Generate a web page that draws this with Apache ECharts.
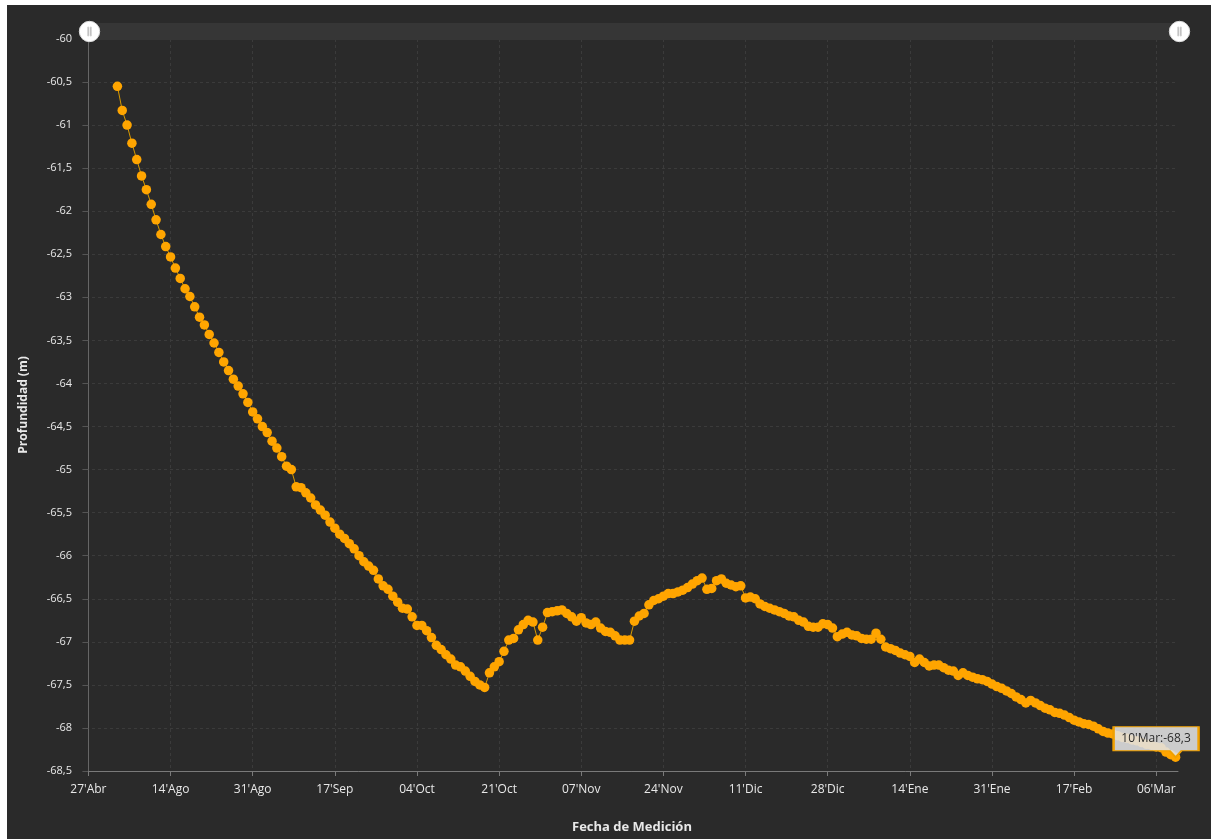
<!DOCTYPE html>
<html>
<head>
<meta charset="utf-8">
<script src="https://cdn.jsdelivr.net/npm/echarts@6/dist/echarts.min.js"></script>
<style>
  html, body { margin: 0; padding: 0; background: #ffffff; width: 1211px; height: 839px; overflow: hidden; }
  #chart { position: absolute; left: 7px; top: 5px; width: 1204px; height: 834px; background: #2a2a2a; }
</style>
</head>
<body>
<div id="chart"></div>
<script>
// ---- data ----
const tickLabels = ["27'Abr", "14'Ago", "31'Ago", "17'Sep", "04'Oct", "21'Oct", "07'Nov", "24'Nov", "11'Dic", "28'Dic", "14'Ene", "31'Ene", "17'Feb", "06'Mar"];
const tickStepDays = 17;
const axisOriginDate = '2024-07-28';
const firstMeasurementDate = '2024-08-03';
const monthNamesEs = ['Ene', 'Feb', 'Mar', 'Abr', 'May', 'Jun', 'Jul', 'Ago', 'Sep', 'Oct', 'Nov', 'Dic'];
// one depth per day, starting at firstMeasurementDate
const depths = [
  -60.55, -60.83, -61.00, -61.21, -61.40, -61.59, -61.75, -61.92, -62.10, -62.27,
  -62.41, -62.53, -62.66, -62.78, -62.90, -62.99, -63.11, -63.23, -63.32, -63.43,
  -63.53, -63.64, -63.75, -63.85, -63.95, -64.03, -64.12, -64.22, -64.33, -64.41,
  -64.50, -64.57, -64.67, -64.75, -64.85, -64.96, -65.00, -65.20, -65.21, -65.27,
  -65.33, -65.41, -65.47, -65.53, -65.61, -65.68, -65.75, -65.80, -65.86, -65.92,
  -66.00, -66.07, -66.12, -66.17, -66.27, -66.35, -66.39, -66.47, -66.54, -66.61,
  -66.62, -66.71, -66.81, -66.81, -66.87, -66.95, -67.04, -67.09, -67.15, -67.20,
  -67.27, -67.29, -67.34, -67.40, -67.46, -67.50, -67.53, -67.36, -67.29, -67.23,
  -67.11, -66.98, -66.96, -66.86, -66.80, -66.75, -66.77, -66.98, -66.83, -66.66,
  -66.65, -66.64, -66.63, -66.67, -66.71, -66.76, -66.72, -66.78, -66.80, -66.77,
  -66.84, -66.88, -66.89, -66.93, -66.98, -66.98, -66.98, -66.76, -66.70, -66.67,
  -66.57, -66.52, -66.50, -66.47, -66.44, -66.44, -66.42, -66.40, -66.37, -66.33,
  -66.29, -66.26, -66.39, -66.38, -66.29, -66.27, -66.32, -66.34, -66.36, -66.35,
  -66.49, -66.48, -66.50, -66.56, -66.59, -66.61, -66.63, -66.65, -66.67, -66.70,
  -66.71, -66.75, -66.77, -66.82, -66.83, -66.83, -66.79, -66.80, -66.84, -66.94,
  -66.91, -66.89, -66.92, -66.93, -66.96, -66.97, -66.97, -66.90, -66.97, -67.06,
  -67.08, -67.10, -67.13, -67.15, -67.17, -67.24, -67.20, -67.24, -67.28, -67.27,
  -67.27, -67.30, -67.33, -67.34, -67.39, -67.36, -67.39, -67.41, -67.43, -67.44,
  -67.46, -67.49, -67.52, -67.54, -67.57, -67.60, -67.64, -67.67, -67.71, -67.68,
  -67.71, -67.74, -67.77, -67.79, -67.82, -67.83, -67.85, -67.88, -67.91, -67.93,
  -67.95, -67.96, -67.98, -68.01, -68.04, -68.06, -68.07, -68.09, -68.11, -68.12,
  -68.14, -68.15, -68.17, -68.19, -68.20, -68.22, -68.23, -68.28, -68.31, -68.34
];

// ---- build ----
const DAY = 86400000;
const originMs = Date.parse(axisOriginDate + 'T00:00:00Z');
const firstDay = Math.round((Date.parse(firstMeasurementDate + 'T00:00:00Z') - originMs) / DAY);
const seriesData = depths.map((v, i) => [firstDay + i, v]);
const lastPoint = seriesData[seriesData.length - 1];
function dayLabel(d) {
  const dt = new Date(originMs + d * DAY);
  const dd = String(dt.getUTCDate()).padStart(2, '0');
  return dd + "'" + monthNamesEs[dt.getUTCMonth()];
}
const fmtNum = v => String(v).replace('.', ',');
const lastText = dayLabel(lastPoint[0]) + ':' + fmtNum(Math.round(lastPoint[1] * 10) / 10);
const tickValues = tickLabels.map((_, i) => i * tickStepDays);

const labelColor = '#e8e8e8';
const gridLineColor = '#3b3b3b';
const axisLineColor = '#7a7a7a';
const font = "'Open Sans', 'Noto Sans', sans-serif";

const chart = echarts.init(document.getElementById('chart'), null, { renderer: 'canvas' });
chart.setOption({
  animation: false,
  backgroundColor: '#2a2a2a',
  textStyle: { fontFamily: font },
  grid: { left: 79, right: 33, top: 34, bottom: 63.5, containLabel: false },
  dataZoom: [{
    type: 'slider',
    xAxisIndex: 0,
    filterMode: 'none',
    start: 0, end: 100,
    top: 18, height: 17, left: 80, right: 32,
    backgroundColor: '#363636',
    fillerColor: '#363636',
    borderColor: 'transparent',
    showDataShadow: false,
    showDetail: false,
    brushSelect: false,
    moveHandleSize: 0,
    zoomLock: true,
    dataBackground: { lineStyle: { opacity: 0 }, areaStyle: { opacity: 0 } },
    selectedDataBackground: { lineStyle: { opacity: 0 }, areaStyle: { opacity: 0 } },
    handleIcon: 'path://M10,0A10,10,0,1,1,10,20A10,10,0,1,1,10,0Z M8.3,5.5L8.3,14.5L9.3,14.5L9.3,5.5Z M10.7,5.5L10.7,14.5L11.7,14.5L11.7,5.5Z',
    handleSize: '120%',
    handleStyle: { color: '#ffffff', borderColor: '#dddddd', borderWidth: 1 },
    emphasis: { handleStyle: { color: '#ffffff', borderColor: '#dddddd' } }
  }],
  xAxis: {
    type: 'value',
    min: -0.5,
    max: 225.5,
    name: 'Fecha de Medición',
    nameLocation: 'middle',
    nameGap: 50,
    nameTextStyle: { color: labelColor, fontSize: 13, fontWeight: 'bold', fontFamily: font },
    axisLine: { show: true, onZero: false, lineStyle: { color: axisLineColor, width: 1 } },
    axisTick: { show: true, length: 5, customValues: tickValues, lineStyle: { color: axisLineColor } },
    axisLabel: {
      customValues: tickValues,
      color: labelColor, fontSize: 12, margin: 13, fontFamily: font,
      formatter: v => tickLabels[Math.round(v / tickStepDays)]
    },
    splitLine: { show: true, lineStyle: { color: gridLineColor, type: [3, 3], width: 1 } }
  },
  yAxis: {
    type: 'value',
    min: -68.5,
    max: -60,
    interval: 0.5,
    name: 'Profundidad (m)',
    nameLocation: 'middle',
    nameGap: 56,
    nameRotate: 90,
    nameTextStyle: { color: labelColor, fontSize: 12, fontWeight: 'bold', fontFamily: font },
    axisLine: { show: true, lineStyle: { color: '#666666', width: 1 } },
    axisTick: { show: true, length: 6, lineStyle: { color: '#555555' } },
    axisLabel: { color: labelColor, fontSize: 11, margin: 14, fontFamily: font, formatter: v => fmtNum(v) },
    splitLine: { show: true, lineStyle: { color: gridLineColor, type: [3, 3], width: 1 } }
  },
  series: [{
    type: 'line',
    data: seriesData,
    symbol: 'circle',
    symbolSize: 9.5,
    showAllSymbol: true,
    lineStyle: { color: '#d99a00', width: 1 },
    itemStyle: { color: '#FFA500', borderWidth: 0 },
    markPoint: {
      silent: true,
      symbol: 'path://M0,0L85,0L85,24L68,24L62,30.5L56,24L0,24Z',
      symbolSize: [85, 30.5],
      symbolKeepAspect: false,
      symbolOffset: [-19.5, -15.25],
      itemStyle: { color: 'rgba(226,226,226,0.88)', borderColor: '#f0a000', borderWidth: 1.5 },
      label: { show: true, position: 'inside', offset: [0, -3], color: '#2a2a2a', fontSize: 12, fontFamily: font, formatter: lastText },
      data: [{ coord: lastPoint }]
    }
  }]
});
</script>
</body>
</html>
